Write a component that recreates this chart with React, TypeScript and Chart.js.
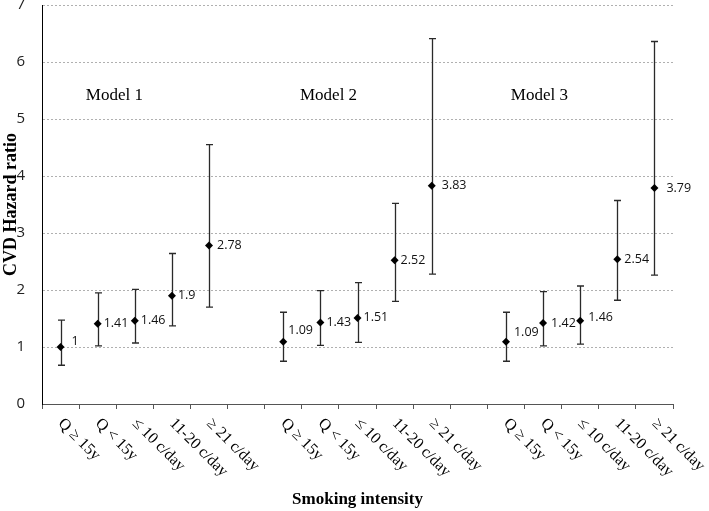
import React, { useEffect, useRef } from "react";
import { Chart, registerables } from "chart.js";

Chart.register(...registerables);

const CATEGORIES = ["Q ≥ 15y", "Q < 15y", "≤ 10 c/day", "11-20 c/day", "≥ 21 c/day"];
const MODELS = ["Model 1", "Model 2", "Model 3"];

const HR_M1 = [1, 1.41, 1.46, 1.9, 2.78];
const LO_M1 = [0.68, 1.02, 1.07, 1.37, 1.7];
const HI_M1 = [1.47, 1.95, 2.01, 2.64, 4.55];

const HR_M2 = [1.09, 1.43, 1.51, 2.52, 3.83];
const LO_M2 = [0.75, 1.03, 1.08, 1.8, 2.28];
const HI_M2 = [1.61, 1.99, 2.13, 3.52, 6.41];

const HR_M3 = [1.09, 1.42, 1.46, 2.54, 3.79];
const LO_M3 = [0.75, 1.02, 1.05, 1.82, 2.26];
const HI_M3 = [1.61, 1.97, 2.07, 3.57, 6.36];

const Y_TICKS = [0, 1, 2, 3, 4, 5, 6, 7];

// model label anchor (category-index position, y value)
const MODEL_LABEL_X = [1.45, 7.22, 12.9];
const MODEL_LABEL_Y = [5.42, 5.42, 5.42];

// per-point label shift (dx, dy) in px, styling only
const LABEL_DX = [11, 6, 6, 6, 8, 0, 5, 6, 6, 6, 10, 0, 8, 8, 8, 7, 12];
const LABEL_DY = [-6, 0, 0, 0, 0, 0, -11, 0, 0, 0, 0, 0, -9, 0, -3, 0, 0];

function build() {
  const labels: string[] = [];
  const hr: (number | null)[] = [];
  const lo: (number | null)[] = [];
  const hi: (number | null)[] = [];
  const groups = [
    [HR_M1, LO_M1, HI_M1],
    [HR_M2, LO_M2, HI_M2],
    [HR_M3, LO_M3, HI_M3],
  ];
  groups.forEach((g, gi) => {
    if (gi > 0) {
      labels.push("");
      hr.push(null);
      lo.push(null);
      hi.push(null);
    }
    CATEGORIES.forEach((c, i) => {
      labels.push(c);
      hr.push(g[0][i]);
      lo.push(g[1][i]);
      hi.push(g[2][i]);
    });
  });
  return { labels, hr, lo, hi };
}

export default function App() {
  const ref = useRef<HTMLCanvasElement | null>(null);

  useEffect(() => {
    const canvas = ref.current;
    if (!canvas) return;
    const { labels, hr, lo, hi } = build();

    const overlay = {
      id: "overlay",
      beforeDatasetsDraw(chart: any) {
        const ctx = chart.ctx;
        const xs = chart.scales.x;
        const ys = chart.scales.y;
        ctx.save();
        ctx.strokeStyle = "#2a2a2a";
        ctx.lineWidth = 1.3;
        for (let i = 0; i < labels.length; i++) {
          if (hr[i] == null) continue;
          const x = Math.round(xs.getPixelForValue(i)) + 0.5;
          const y1 = ys.getPixelForValue(lo[i] as number);
          const y2 = ys.getPixelForValue(hi[i] as number);
          ctx.beginPath();
          ctx.moveTo(x, y1);
          ctx.lineTo(x, y2);
          ctx.moveTo(x - 3.5, y1);
          ctx.lineTo(x + 3.5, y1);
          ctx.moveTo(x - 3.5, y2);
          ctx.lineTo(x + 3.5, y2);
          ctx.stroke();
        }
        ctx.restore();
      },
      afterDatasetsDraw(chart: any) {
        const ctx = chart.ctx;
        const xs = chart.scales.x;
        const ys = chart.scales.y;
        ctx.save();
        // value labels
        ctx.fillStyle = "#111";
        ctx.font = "12.5px 'Open Sans'";
        ctx.textAlign = "left";
        ctx.textBaseline = "middle";
        for (let i = 0; i < labels.length; i++) {
          if (hr[i] == null) continue;
          const x = xs.getPixelForValue(i);
          const y = ys.getPixelForValue(hr[i] as number);
          ctx.fillText(String(hr[i]), x + LABEL_DX[i], y + LABEL_DY[i]);
        }
        // model labels
        ctx.font = "17px 'Liberation Serif'";
        ctx.textAlign = "center";
        ctx.fillStyle = "#000";
        MODELS.forEach((m, k) => {
          const x = xs.getPixelForValue(MODEL_LABEL_X[k]);
          const y = ys.getPixelForValue(MODEL_LABEL_Y[k]);
          ctx.fillText(m, x, y);
        });
        // rotated x labels
        ctx.font = "16px 'Liberation Serif'";
        ctx.textAlign = "left";
        ctx.textBaseline = "middle";
        for (let i = 0; i < labels.length; i++) {
          if (!labels[i]) continue;
          const x = xs.getPixelForValue(i);
          ctx.save();
          ctx.translate(x, xs.top + 17);
          ctx.rotate(Math.PI / 4);
          ctx.fillText(labels[i], 0, 0);
          ctx.restore();
        }
        ctx.restore();
      },
    };

    const chart = new Chart(canvas, {
      type: "line",
      data: {
        labels,
        datasets: [
          {
            data: hr,
            showLine: false,
            pointStyle: "rectRot",
            pointRadius: 4,
            pointBackgroundColor: "#000",
            pointBorderColor: "#000",
            pointBorderWidth: 0,
          },
        ],
      },
      options: {
        responsive: false,
        animation: false,
        layout: { padding: { left: 0, right: 36, top: 5, bottom: 0 } },
        plugins: { legend: { display: false }, tooltip: { enabled: false } },
        scales: {
          x: {
            type: "category",
            offset: true,
            grid: {
              offset: true,
              drawOnChartArea: false,
              drawTicks: true,
              tickLength: 5,
              color: "#555",
            },
            border: { color: "#555", width: 1 },
            ticks: { display: false },
            title: {
              display: true,
              text: "Smoking intensity",
              font: { family: "'Liberation Serif'", size: 17, weight: "bold" },
              color: "#000",
              padding: { top: 0, bottom: 1 },
            },
            afterFit(scale: any) {
              scale.height = 107;
              scale.paddingLeft = 0;
              scale.paddingRight = 0;
            },
          },
          y: {
            min: 0,
            max: 7,
            afterBuildTicks(scale: any) {
              scale.ticks = Y_TICKS.map((v) => ({ value: v }));
            },
            grid: { color: "#b0b0b0", drawTicks: false, lineWidth: 1 },
            border: { color: "#000", width: 1, dash: [2, 2] },
            ticks: {
              padding: 17,
              color: "#222",
              font: { family: "'Open Sans'", size: 15 },
            },
            title: {
              display: true,
              text: "CVD Hazard ratio",
              font: { family: "'Liberation Serif'", size: 18, weight: "bold" },
              color: "#000",
              padding: { top: 1, bottom: 0 },
            },
            afterFit(scale: any) {
              scale.width = 42;
              scale.paddingTop = 0;
              scale.paddingBottom = 0;
            },
          },
        },
      },
      plugins: [overlay],
    } as any);

    return () => chart.destroy();
  }, []);

  return (
    <div style={{ position: "fixed", left: 0, top: 0, width: 709, height: 511, background: "#fff" }}>
      <canvas ref={ref} width={709} height={511} />
    </div>
  );
}
